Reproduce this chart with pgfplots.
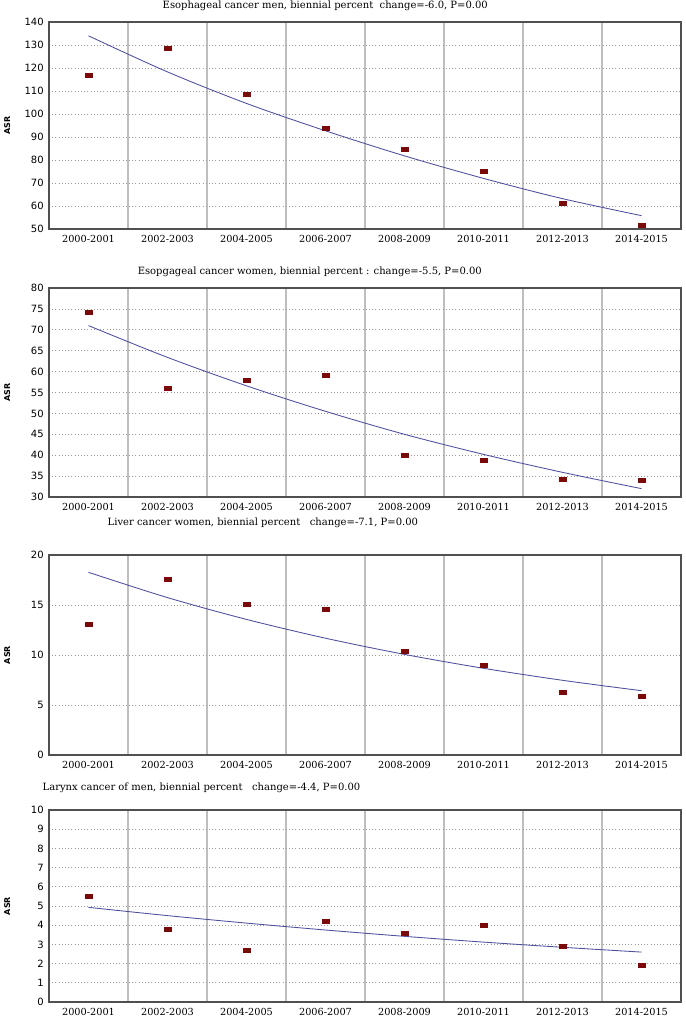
\documentclass[border=0pt]{standalone}
\usepackage{fontspec}
\setmainfont{DejaVu Serif}
\newfontfamily\sansf{DejaVu Sans}
\usepackage{pgfplots}
\pgfplotsset{compat=1.18}
\definecolor{mk}{HTML}{7A0A0A}
\definecolor{ln}{HTML}{4F4F9E}
\definecolor{vg}{HTML}{BEBEBE}
\definecolor{hg}{HTML}{9A9A9A}
\definecolor{fr}{HTML}{505050}
\pgfplotsset{
  every axis title shift=0pt,
  panel/.style={
    scale only axis, width=474pt,
    xmin=0, xmax=8,
    xtick={0.5,1.5,2.5,3.5,4.5,5.5,6.5,7.5},
    xticklabels={2000-2001,2002-2003,2004-2005,2006-2007,2008-2009,2010-2011,2012-2013,2014-2015},
    minor xtick={1,2,3,4,5,6,7},
    xminorgrids=true, ymajorgrids=true,
    minor x grid style={vg, line width=0.9pt},
    major y grid style={hg, dotted, line width=0.5pt},
    major tick length=0pt, minor tick length=0pt,
    axis line style={fr, line width=0.8pt},
    xticklabel style={font=\fontsize{7.3}{8}\selectfont, yshift=-1pt},
    yticklabel style={font=\sansf\fontsize{7.5}{8}\selectfont, xshift=-0.5pt},
    /pgf/number format/assume math mode=true,
    ylabel={ASR},
    ylabel style={at={(axis description cs:-0.066,0.5)}, anchor=center, font=\sansf\bfseries\fontsize{6}{7}\selectfont},
    title style={anchor=west, font=\fontsize{7.5}{8}\selectfont},
  },
  pts/.style={only marks, mark=square*, mark size=1.5pt, mark options={xscale=1.75, fill=mk, draw=mk}, color=mk},
  fit/.style={ln, line width=0.65pt, mark=none, smooth},
}
\begin{document}
\begin{tikzpicture}
\useasboundingbox (0,0) rectangle (513.75pt,-762pt);
% Panel 1
\begin{axis}[panel, at={(36.75pt,-171.75pt)}, anchor=south west, height=155.25pt,
  ymin=50, ymax=140, ytick={50,60,...,140},
  title={Esophageal cancer men, biennial percent\ \ change=-6.0, P=0.00},
  title style={at={(axis description cs:0.1725,1.077)}}]
\addplot[fit] coordinates {(0.5,134) (1.5,118.3) (2.5,104.6) (3.5,92.7) (4.5,81.8) (5.5,72) (6.5,63.2) (7.5,55.8)};
\addplot[pts] coordinates {(0.5,117) (1.5,128.5) (2.5,108.8) (3.5,93.8) (4.5,84.8) (5.5,75.2) (6.5,61.2) (7.5,51.8)};
\end{axis}
% Panel 2
\begin{axis}[panel, at={(36.75pt,-372.75pt)}, anchor=south west, height=156.75pt,
  ymin=30, ymax=80, ytick={30,35,...,80},
  title={Esopgageal cancer women, biennial percent : change=-5.5, P=0.00},
  title style={at={(axis description cs:0.133,1.077)}}]
\addplot[fit] coordinates {(0.5,71) (1.5,63.4) (2.5,56.6) (3.5,50.5) (4.5,45.0) (5.5,40.2) (6.5,35.9) (7.5,32.0)};
\addplot[pts] coordinates {(0.5,74.2) (1.5,56.0) (2.5,58.0) (3.5,59.1) (4.5,40.0) (5.5,38.8) (6.5,34.2) (7.5,34.0)};
\end{axis}
% Panel 3
\begin{axis}[panel, at={(36.75pt,-566.25pt)}, anchor=south west, height=150pt,
  ymin=0, ymax=20, ytick={0,5,...,20},
  title={Liver cancer women, biennial percent\ \ \ change=-7.1, P=0.00},
  title style={at={(axis description cs:0.0854,1.16)}}]
\addplot[fit] coordinates {(0.5,18.27) (1.5,15.74) (2.5,13.56) (3.5,11.68) (4.5,10.06) (5.5,8.67) (6.5,7.47) (7.5,6.43)};
\addplot[pts] coordinates {(0.5,13.1) (1.5,17.6) (2.5,15.1) (3.5,14.6) (4.5,10.4) (5.5,9.0) (6.5,6.3) (7.5,5.9)};
\end{axis}
% Panel 4
\begin{axis}[panel, at={(36.75pt,-751.5pt)}, anchor=south west, height=144pt,
  ymin=0, ymax=10, ytick={0,1,...,10},
  title={Larynx cancer of men, biennial percent\ \ \ change=-4.4, P=0.00},
  title style={at={(axis description cs:-0.0174,1.115)}}]
\addplot[fit] coordinates {(0.5,4.93) (1.5,4.50) (2.5,4.11) (3.5,3.75) (4.5,3.42) (5.5,3.12) (6.5,2.85) (7.5,2.60)};
\addplot[pts] coordinates {(0.5,5.5) (1.5,3.8) (2.5,2.7) (3.5,4.2) (4.5,3.6) (5.5,4.0) (6.5,2.9) (7.5,1.9)};
\end{axis}
\end{tikzpicture}
\end{document}
